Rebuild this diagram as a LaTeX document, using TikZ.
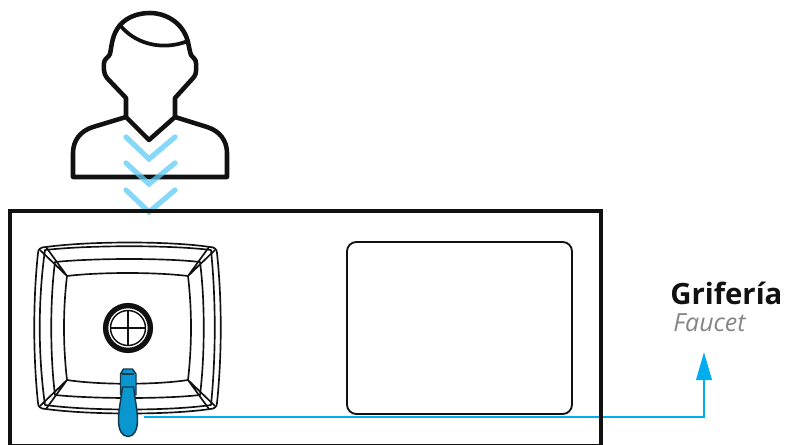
\documentclass[tikz,border=0pt]{standalone}
\usepackage{fontspec}
\setmainfont{Open Sans}
\usetikzlibrary{arrows.meta}
\definecolor{wirecol}{HTML}{00AEEF}
\definecolor{chevcol}{HTML}{5CCBF5}
\definecolor{faucol}{HTML}{0A97CF}
\definecolor{faudark}{HTML}{16384C}
\definecolor{inkcol}{HTML}{111111}
\tikzset{
  person/.style={draw=inkcol,line width=3.4pt,line join=round,line cap=round},
  chevron/.style={draw=chevcol,line width=3.9pt,line cap=round,line join=miter,opacity=.75},
  rim/.style={draw=inkcol,line width=1.25pt,line join=round},
  counter/.style={draw=inkcol,line width=2.9pt},
  tray/.style={draw=inkcol,line width=1.4pt,rounded corners=7pt},
  leader/.style={draw=wirecol,line width=2pt,-{Triangle[length=21pt,width=11.5pt]}},
  faubody/.style={fill=faucol,draw=faudark,line width=1.1pt,line join=round},
}
\begin{document}
\begin{tikzpicture}[x=0.75pt,y=-0.75pt]
\useasboundingbox (0,0) rectangle (785,445);
% person
\draw[person] (126,117) -- (126,98) -- (107,78) .. controls (103,73) and (104,68) .. (104,63)
  .. controls (104,59) and (109,57) .. (110,54) .. controls (112,44) and (112,35) .. (120,25)
  .. controls (128,16) and (140,13) .. (150,13) .. controls (165,13) and (183,22) .. (188,42)
  .. controls (189,47) and (190,52) .. (191,55) .. controls (193,58) and (196,59) .. (196,63)
  .. controls (196,68) and (197,73) .. (194,77) -- (175,98) -- (175,117) -- (149,140) -- cycle;
\draw[person] (126,117) -- (93,127) .. controls (80,131) and (73,141) .. (73,153) -- (73,177) -- (227,177) -- (227,153)
  .. controls (227,141) and (220,131) .. (207,127) -- (175,117);
\draw[person,line width=2.8pt] (120,25) .. controls (133,42) and (160,52) .. (188,41);
% chevrons
\draw[chevron] (126,137) -- (149,159) -- (175,137);
\draw[chevron] (126,163) -- (149,184) -- (175,163);
\draw[chevron] (126,190) -- (149,212) -- (175,190);
% leader under the counter line
\coordinate (fau) at (144,417);
\coordinate (bend) at (704,417);
\coordinate (tip) at (704,352);
\draw[leader] (fau) -- (bend) -- (tip);
% counter and tray
\draw[counter] (10,447) -- (10,211) -- (601,211) -- (601,447);
\draw[inkcol,line width=1pt] (10,444.6) -- (601,444.6);
\draw[tray] (347,242) rectangle (572,414);
% sink rims
\draw[rim] (46,247) .. controls (90,241) and (170,241) .. (210,247)
  .. controls (214,247) and (217,249) .. (217,253)
  .. controls (222,300) and (222,355) .. (217,403)
  .. controls (217,407) and (214,409) .. (210,409)
  .. controls (170,415) and (90,415) .. (46,409)
  .. controls (41,409) and (38,407) .. (38,403)
  .. controls (33,355) and (33,300) .. (38,253)
  .. controls (38,249) and (41,247) .. (46,247) -- cycle;
\draw[rim] (45,250) .. controls (90,245) and (170,245) .. (211,250)
  .. controls (216,300) and (216,355) .. (211,405)
  .. controls (170,411) and (90,411) .. (45,405)
  .. controls (38,355) and (38,300) .. (45,250) -- cycle;
\draw[rim] (55,262) .. controls (95,258) and (165,258) .. (200,262)
  .. controls (205,300) and (205,355) .. (200,395)
  .. controls (165,399) and (95,399) .. (55,395)
  .. controls (50,355) and (50,300) .. (55,262) -- cycle;
\draw[rim] (67,276) .. controls (100,272) and (155,272) .. (188,276)
  .. controls (192,310) and (192,345) .. (188,380)
  .. controls (155,385) and (100,385) .. (67,380)
  .. controls (63,345) and (63,310) .. (67,276) -- cycle;
% sink corner diagonals
\draw[rim] (40,250) -- (67,276) (46,247) -- (67,276);
\draw[rim] (215,250) -- (188,276) (209,247) -- (188,276);
\draw[rim] (40,406) -- (67,380) (46,409) -- (67,380);
\draw[rim] (215,406) -- (188,380) (209,409) -- (188,380);
% drain
\draw[draw=inkcol,line width=4pt] (128,328) circle (22.4);
\draw[draw=inkcol,line width=1.1pt] (128,328) circle (17.5);
\draw[draw=inkcol,line width=1pt] (110.5,328) -- (145.5,328) (128,310.5) -- (128,345.5);
% faucet
\draw[faubody] (123.5,369) -- (132.5,369) -- (136,374) -- (136,395) -- (120.5,395) -- (120.5,374) -- cycle;
\draw[faubody] (122.5,387) -- (133.5,387) .. controls (135,400) and (137.5,410) .. (137.5,420)
  .. controls (137.5,430) and (134,436.5) .. (128,436.5) .. controls (122,436.5) and (118.5,430) .. (118.5,420)
  .. controls (118.5,410) and (121,400) .. (122.5,387) -- cycle;
\draw[faudark,line width=0.8pt] (122,374) -- (134,374);
% labels
\node[anchor=base west,inner sep=0pt,text=inkcol,font=\fontsize{22pt}{24pt}\selectfont\bfseries] (grif) at (670,305) {Grifería};
\node[anchor=base west,inner sep=0pt,text=black!48,font=\fontsize{18.7pt}{20pt}\selectfont\itshape] (fauc) at (673,331) {Faucet};
\end{tikzpicture}
\end{document}
